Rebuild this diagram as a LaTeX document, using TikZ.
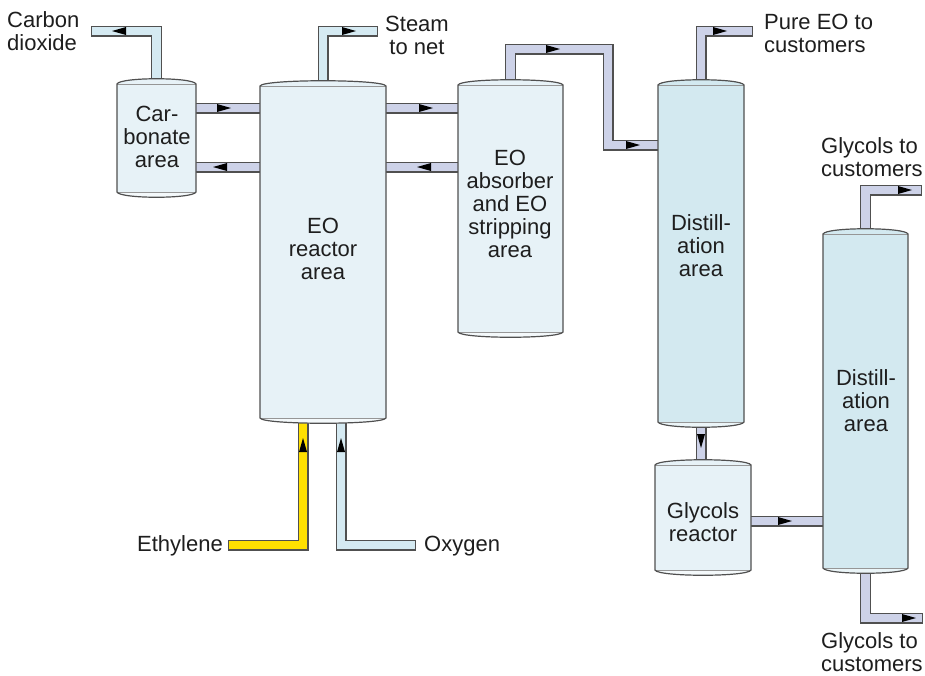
\documentclass[tikz,border=0pt]{standalone}
\usepackage{fontspec}
\setmainfont{Liberation Sans}
\usetikzlibrary{calc}
\definecolor{outl}{RGB}{80,80,80}
\definecolor{vfill}{RGB}{231,242,247}
\definecolor{dfill}{RGB}{211,233,240}
\definecolor{lav}{RGB}{205,210,232}
\definecolor{lblue}{RGB}{213,234,242}
\definecolor{yel}{RGB}{255,224,0}
\definecolor{txt}{RGB}{30,30,30}
\tikzset{
  vsl/.style={rectangle, draw=none, inner sep=0pt, outer sep=0pt},
  lbl/.style={align=center, inner sep=0pt, text=txt, font=\fontsize{22}{23}\selectfont},
  outlbl/.style={align=left, inner sep=0pt, text=txt, font=\fontsize{22}{23}\selectfont},
  pipeout/.style={line width=11pt, draw=outl, line join=miter, line cap=butt},
  pipein/.style={line width=8.6pt, draw=#1, line join=miter, line cap=butt, shorten >=1.3pt},
  vline/.style={draw=outl, line width=1.2pt},
  chord/.style={draw=outl!60, line width=0.5pt},
  arrowc/.style={fill=black}
}
\newcommand\pipe[2]{\draw[pipeout] #2; \draw[pipein=#1] #2;}
\newcommand\domepath[1]{(#1.north west) .. controls ($(#1.north west)+(3,-7)$) and ($(#1.north east)+(-3,-7)$) .. (#1.north east) -- (#1.south east) .. controls ($(#1.south east)+(-3,7)$) and ($(#1.south west)+(3,7)$) .. (#1.south west) -- cycle}
\newcommand\vesselshape[2]{%
  \path[fill=#2] \domepath{#1};
  \path[fill=white, fill opacity=0.55] (#1.south east) .. controls ($(#1.south east)+(-3,7)$) and ($(#1.south west)+(3,7)$) .. (#1.south west) -- cycle;
  \draw[chord] (#1.north west) -- (#1.north east);
  \draw[chord] (#1.south west) -- (#1.south east);
  \draw[vline] \domepath{#1};
}
\newcommand\arrR[1]{\fill[arrowc] (#1) -- ++(-14,-4) -- ++(0,8) -- cycle;}
\newcommand\arrL[1]{\fill[arrowc] (#1) -- ++(14,-4) -- ++(0,8) -- cycle;}
\newcommand\arrU[1]{\fill[arrowc] (#1) -- ++(-4,14) -- ++(8,0) -- cycle;}
\newcommand\arrD[1]{\fill[arrowc] (#1) -- ++(-4,-14) -- ++(8,0) -- cycle;}
\begin{document}
\begin{tikzpicture}[x=1pt,y=-1pt]
\useasboundingbox (0,0) rectangle (925,675);
\fill[white] (0,0) rectangle (925,675);
% vessel frames
\node[vsl, minimum width=79pt,  minimum height=108pt] (carb)  at (156.5,138) {};
\node[vsl, minimum width=126pt, minimum height=332pt] (reac)  at (323,252) {};
\node[vsl, minimum width=105pt, minimum height=247pt] (absb)  at (510.5,208.5) {};
\node[vsl, minimum width=86pt,  minimum height=337pt] (dist1) at (701,253.5) {};
\node[vsl, minimum width=96pt,  minimum height=105pt] (glyc)  at (703,517.5) {};
\node[vsl, minimum width=85pt,  minimum height=334pt] (dist2) at (865.5,401) {};
% helper coordinates
\coordinate (yhi) at (0,108);
\coordinate (ylo) at (0,167);
\coordinate (yg) at (0,521);
\coordinate (co2e) at (91,31);
\coordinate (steame) at (378,31);
\coordinate (k1) at (608,49);
\coordinate (k2) at (608,145);
\coordinate (eoe) at (753,31);
\coordinate (gte) at (922,190);
\coordinate (gbe) at (923,618);
\coordinate (ethb) at (303,545);
\coordinate (ethe) at (228,545);
\coordinate (oxb) at (341,545);
\coordinate (oxe) at (416,545);
% pipes
\pipe{lblue}{(carb.center) |- (co2e)}
\pipe{lblue}{(reac.center) |- (steame)}
\pipe{lav}{(carb |- yhi) -- (reac |- yhi)}
\pipe{lav}{(reac |- ylo) -- (carb |- ylo)}
\pipe{lav}{(reac |- yhi) -- (absb |- yhi)}
\pipe{lav}{(absb |- ylo) -- (reac |- ylo)}
\pipe{lav}{(absb.center) |- (k1) -- (k2) -- (dist1 |- k2)}
\pipe{lav}{(dist1.center) |- (eoe)}
\pipe{lav}{(dist1.center) -- (dist1 |- glyc)}
\pipe{lav}{(glyc |- yg) -- (dist2 |- yg)}
\pipe{lav}{(dist2.center) |- (gte)}
\pipe{lav}{(dist2.center) |- (gbe)}
\pipe{yel}{(ethb |- reac) -- (ethb) -- (ethe)}
\pipe{lblue}{(oxb |- reac) -- (oxb) -- (oxe)}
% vessels
\vesselshape{carb}{vfill}
\vesselshape{reac}{vfill}
\vesselshape{absb}{vfill}
\vesselshape{dist1}{dfill}
\vesselshape{glyc}{vfill}
\vesselshape{dist2}{dfill}
% arrows
\arrL{112,31}
\arrR{356,31}
\arrR{231,108}
\arrL{213,167}
\arrR{433,108}
\arrL{417,167}
\arrR{560,49}
\arrR{640,145}
\arrR{727,31}
\arrD{701,448}
\arrR{792,521}
\arrR{912,190}
\arrR{916,618}
\arrU{303,438}
\arrU{341,438}
% vessel labels
\node[lbl] (carbt)  at (157,137)   {Car-\\bonate\\area};
\node[lbl] (react)  at (323,248.5) {EO\\reactor\\area};
\node[lbl] (absbt)  at (510,203.5) {EO\\absorber\\and EO\\stripping\\area};
\node[lbl] (dist1t) at (701,245.5) {Distill-\\ation\\area};
\node[lbl] (glyct)  at (703,522)   {Glycols\\reactor};
\node[lbl] (dist2t) at (866,400.5) {Distill-\\ation\\area};
% outside labels
\node[outlbl, anchor=north west] (co2l) at (7,11) {Carbon\\dioxide};
\node[lbl, anchor=north] (steaml) at (417,16) {Steam\\to net};
\node[outlbl, anchor=north west] (eol) at (764,14) {Pure EO to\\customers};
\node[outlbl, anchor=north west] (gtl) at (821,137) {Glycols to\\customers};
\node[outlbl, anchor=north west] (gbl) at (821,632) {Glycols to\\customers};
\node[outlbl, anchor=base east] (ethl) at (223,551) {Ethylene};
\node[outlbl, anchor=base west] (oxl) at (424,551) {Oxygen};
\end{tikzpicture}
\end{document}
